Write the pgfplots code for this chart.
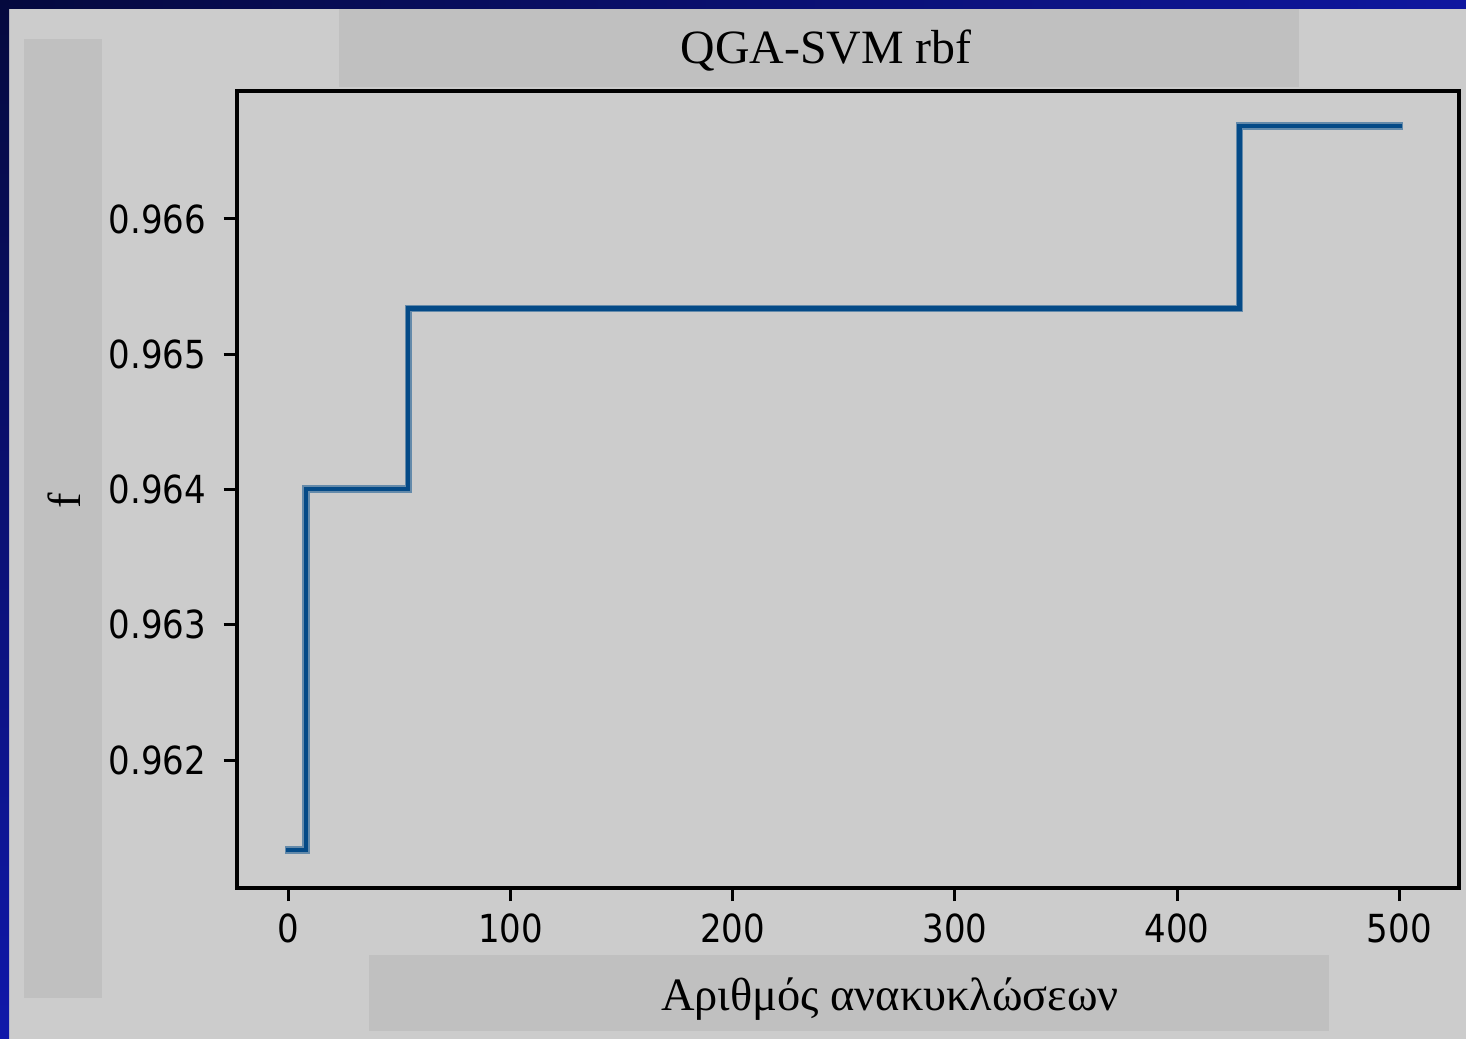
\documentclass[border=0pt]{standalone}
\usepackage{fontspec}
\setmainfont{Liberation Serif}
\newfontfamily\tickfont[FakeStretch=0.88]{DejaVu Sans}
\usepackage{pgfplots}
\usepackage{pgfplotstable}
\pgfplotsset{compat=1.18}

\definecolor{bg}{RGB}{204,204,204}
\definecolor{boxgray}{RGB}{192,192,192}
\definecolor{navy}{RGB}{5,9,62}
\definecolor{brightblue}{RGB}{16,24,170}
\definecolor{stepblue}{RGB}{4,74,135}
\definecolor{stephalo}{RGB}{100,138,170}

% best fitness per iteration (step changes only)
\pgfplotstableread{
iter  f
0     0.961335
8     0.964005
54    0.965338
428   0.966688
500   0.966688
}\fitness

\begin{document}
\begin{tikzpicture}
\begin{scope}[x=0.1mm,y=-0.1mm]
  \path[use as bounding box] (0,0) rectangle (1466,1039);
  \fill[bg] (0,0) rectangle (1466,1039);
  \shade[left color=navy, right color=brightblue!90!navy] (0,0) rectangle (1466,9);
  \shade[top color=navy, bottom color=brightblue] (0,0) rectangle (9,1039);
  \fill[boxgray] (339,9) rectangle (1299,87);
  \fill[boxgray] (24,39) rectangle (102,998);
  \fill[boxgray] (369,955) rectangle (1329,1031);
  \node[anchor=base, inner sep=0, font=\fontsize{13.6}{16}\selectfont] at (826,64) {QGA-SVM rbf};
  \node[anchor=base, inner sep=0, font=\fontsize{13.2}{15}\selectfont] at (890,1010) {Αριθμός ανακυκλώσεων};
  \node[anchor=base, rotate=90, inner sep=0, font=\fontsize{13.2}{15}\selectfont] at (80,501) {f};
\end{scope}

\begin{axis}[
  at={(23.67mm,-88.8mm)}, anchor=south west,
  scale only axis, width=122.23mm, height=79.7mm,
  xmin=-23.2, xmax=526.8, ymin=0.961055, ymax=0.966946,
  axis line style={line width=0.4mm, black},
  tick align=outside, tick pos=left,
  major tick length=1.3mm,
  every tick/.style={black, line width=0.3mm},
  xtick={0,100,...,500},
  ytick={0.962,0.963,0.964,0.965,0.966},
  yticklabels={0.962,0.963,0.964,0.965,0.966},
  /pgf/number format/assume math mode=true,
  tick label style={font=\tickfont\fontsize{11}{13}\selectfont},
  yticklabel style={xshift=-0.5mm},
]
\addplot[const plot, stephalo, line width=0.75mm, line cap=rect] table[x=iter, y=f] {\fitness};
\addplot[const plot, stepblue, line width=0.42mm, line cap=rect] table[x=iter, y=f] {\fitness};
\end{axis}
\end{tikzpicture}
\end{document}
